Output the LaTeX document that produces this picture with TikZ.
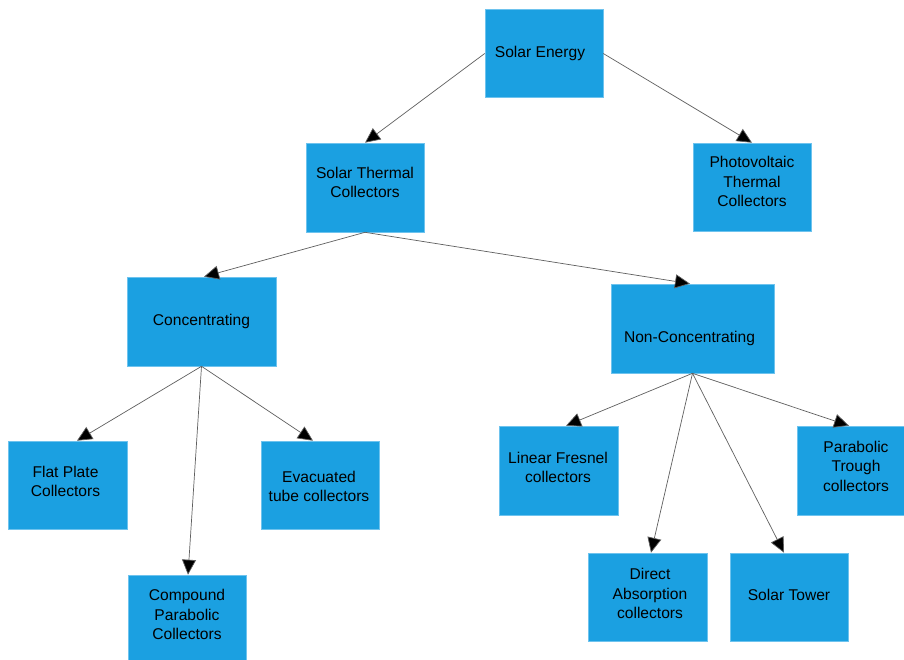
\documentclass[tikz,border=0pt]{standalone}
\usepackage{fontspec}
\setmainfont{Liberation Sans}
\usetikzlibrary{arrows.meta}
\definecolor{boxblue}{RGB}{27,160,225}
\definecolor{boxedge}{RGB}{110,195,238}
\definecolor{linegray}{RGB}{95,95,95}
\begin{document}
\begin{tikzpicture}[x=1pt,y=-1pt,
  box/.style={rectangle, fill=boxblue, draw=boxedge, line width=0.6pt, inner sep=0pt, minimum width=118pt, minimum height=88pt},
  lbl/.style={align=center, inner sep=0pt, font=\fontsize{15.6}{19.5}\selectfont, text=black},
  conn/.style={draw=linegray, line width=0.7pt, -{Triangle[length=15pt,width=14pt,fill=black]}, shorten >=0pt}
]
\useasboundingbox (0,0) rectangle (904,659);
\clip (0,0) rectangle (904,659);
\fill[white] (0,0) rectangle (904,659);

% boxes
\node[box] (se) at (544,53.5) {};
\node[box, minimum height=89pt] (stc) at (365,187.5) {};
\node[box] (pv) at (752,187) {};
\node[box, minimum width=149pt, minimum height=89pt] (conc) at (201.5,321.5) {};
\node[box, minimum width=163pt, minimum height=89pt] (nonc) at (692.5,328.5) {};
\node[box, minimum width=119pt] (flat) at (67.5,485) {};
\node[box] (evac) at (320.5,485) {};
\node[box] (comp) at (187,619) {};
\node[box, minimum width=119pt, minimum height=89pt] (lin) at (558.5,470.5) {};
\node[box, minimum height=89pt] (pt) at (856,470.5) {};
\node[box, minimum width=119pt] (dir) at (647.5,597) {};
\node[box] (st) at (789,597) {};

% labels
\node[lbl] (tse) at (540,53) {Solar Energy};
\node[lbl] (tstc) at (365,182.5) {Solar Thermal\\Collectors};
\node[lbl] (tpv) at (752,181.5) {Photovoltaic\\Thermal\\Collectors};
\node[lbl] (tconc) at (201.5,321) {Concentrating};
\node[lbl] (tnonc) at (689.5,338.5) {Non-Concentrating};
\node[lbl] (tflat) at (65.5,481.5) {Flat Plate\\Collectors};
\node[lbl] (tevac) at (319,486.5) {Evacuated\\tube collectors};
\node[lbl] (tcomp) at (187,614.5) {Compound\\Parabolic\\Collectors};
\node[lbl] (tlin) at (558,467.5) {Linear Fresnel\\collectors};
\node[lbl] (tpt) at (856,466) {Parabolic\\Trough\\collectors};
\node[lbl] (tdir) at (650,593.5) {Direct\\Absorption\\collectors};
\node[lbl] (tst) at (789,595) {Solar Tower};

% connectors
\draw[conn] (se.west) -- (stc.north);
\draw[conn] (se.east) -- (pv.north);
\draw[conn] (stc.south) -- ([xshift=2.5pt]conc.north);
\draw[conn] (stc.south) -- ([xshift=-2.5pt]nonc.north);
\draw[conn] (conc.south) -- ([xshift=9.5pt]flat.north);
\draw[conn] (conc.south) -- ([xshift=1pt]comp.north);
\draw[conn] (conc.south) -- ([xshift=-7.5pt]evac.north);
\draw[conn] (nonc.south) -- ([xshift=7.5pt]lin.north);
\draw[conn] (nonc.south) -- ([xshift=3.5pt]dir.north);
\draw[conn] (nonc.south) -- ([xshift=-5pt]st.north);
\draw[conn] (nonc.south) -- ([xshift=-7pt]pt.north);
\end{tikzpicture}
\end{document}
